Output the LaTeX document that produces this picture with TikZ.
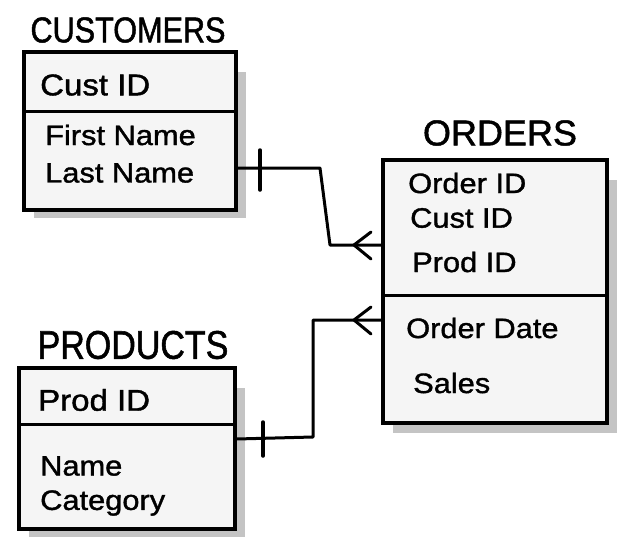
\documentclass[tikz,border=0pt]{standalone}
\usepackage{fontspec}
\setmainfont{Liberation Sans}
\newfontfamily\handfont[FakeStretch=1.1,FakeBold=1.3]{Liberation Sans}
\newfontfamily\narrowfont[FakeStretch=0.85,FakeBold=1.3]{Liberation Sans}
\newfontfamily\titlefont[FakeBold=1.3]{Liberation Sans}
\definecolor{boxfill}{HTML}{F5F5F5}
\definecolor{shadowc}{HTML}{C4C4C4}
\tikzset{
  entity/.style={draw=black, line width=3.5pt, fill=boxfill, inner sep=0pt, rectangle},
  shadowbox/.style={fill=shadowc, draw=none},
  divider/.style={line width=3pt},
  field/.style={anchor=west, inner sep=0pt, font=\handfont\fontsize{28}{30}\selectfont},
  keyfield/.style={field, font=\handfont\fontsize{30}{32}\selectfont},
  ttl/.style={anchor=center, inner sep=0pt},
  conn/.style={line width=3pt, line join=round, line cap=round},
  tick/.style={line width=3.5pt, line cap=round},
  crow/.style={line width=3pt, line cap=round, line join=round}
}
\begin{document}
\begin{tikzpicture}[x=1pt,y=-1pt]
\useasboundingbox (0,0) rectangle (619,541);
% shadows
\fill[shadowbox] (34,72) rectangle (246,218);
\fill[shadowbox] (393,180) rectangle (617,433);
\fill[shadowbox] (29,388) rectangle (245,537);
% boxes
\node[entity, minimum width=212pt, minimum height=158pt] (cust) at (130,131) {};
\node[entity, minimum width=224pt, minimum height=263pt] (ord) at (495,291.5) {};
\node[entity, minimum width=216pt, minimum height=161pt] (prod) at (127,448.5) {};
% dividers
\coordinate (cdiv) at (0,111);
\coordinate (odiv) at (0,295);
\coordinate (pdiv) at (0,424);
\draw[divider] (cust.west |- cdiv) -- (cust.east |- cdiv);
\draw[divider] (ord.west |- odiv) -- (ord.east |- odiv);
\draw[divider] (prod.west |- pdiv) -- (prod.east |- pdiv);
% titles
\node[ttl, font=\narrowfont\fontsize{36}{40}\selectfont] (tcust) at (128,30) {CUSTOMERS};
\node[ttl, font=\titlefont\fontsize{36}{40}\selectfont] (tord) at (500,133) {ORDERS};
\node[ttl, font=\narrowfont\fontsize{40}{44}\selectfont] (tprod) at (133,345) {PRODUCTS};
% fields
\node[keyfield] (c1) at (40,85) {Cust ID};
\node[field] (c2) at (45,135) {First Name};
\node[field] (c3) at (45,173) {Last Name};
\node[field] (o1) at (408,183) {Order ID};
\node[field] (o2) at (410,218) {Cust ID};
\node[field] (o3) at (412,262) {Prod ID};
\node[field] (o4) at (406,328) {Order Date};
\node[field] (o5) at (413,383) {Sales};
\node[keyfield] (p1) at (38,400) {Prod ID};
\node[field] (p2) at (40,466) {Name};
\node[field] (p3) at (40,503) {Category};
% connector customers -> orders
\coordinate (a1) at (0,168);
\coordinate (a2) at (320,168);
\coordinate (a3) at (330,245);
\coordinate (a4) at (0,245);
\draw[conn] (cust.east |- a1) -- (a2) -- (a3) -- (ord.west |- a4);
\coordinate (t1a) at (260,150);
\coordinate (t1b) at (260,190);
\draw[tick] (t1a) -- (t1b);
\coordinate (f1) at (354,245);
\coordinate (f1u) at (371,232);
\coordinate (f1d) at (371,259);
\draw[crow] (f1u) -- (f1) -- (f1d);
% connector products -> orders
\coordinate (b1) at (0,439);
\coordinate (b2) at (313,437);
\coordinate (b3) at (313,320);
\coordinate (b4) at (0,320);
\draw[conn] (prod.east |- b1) -- (b2) -- (b3) -- (ord.west |- b4);
\coordinate (t2a) at (263,422);
\coordinate (t2b) at (263,456);
\draw[tick] (t2a) -- (t2b);
\coordinate (f2) at (354,320);
\coordinate (f2u) at (371,307);
\coordinate (f2d) at (371,334);
\draw[crow] (f2u) -- (f2) -- (f2d);
\end{tikzpicture}
\end{document}
